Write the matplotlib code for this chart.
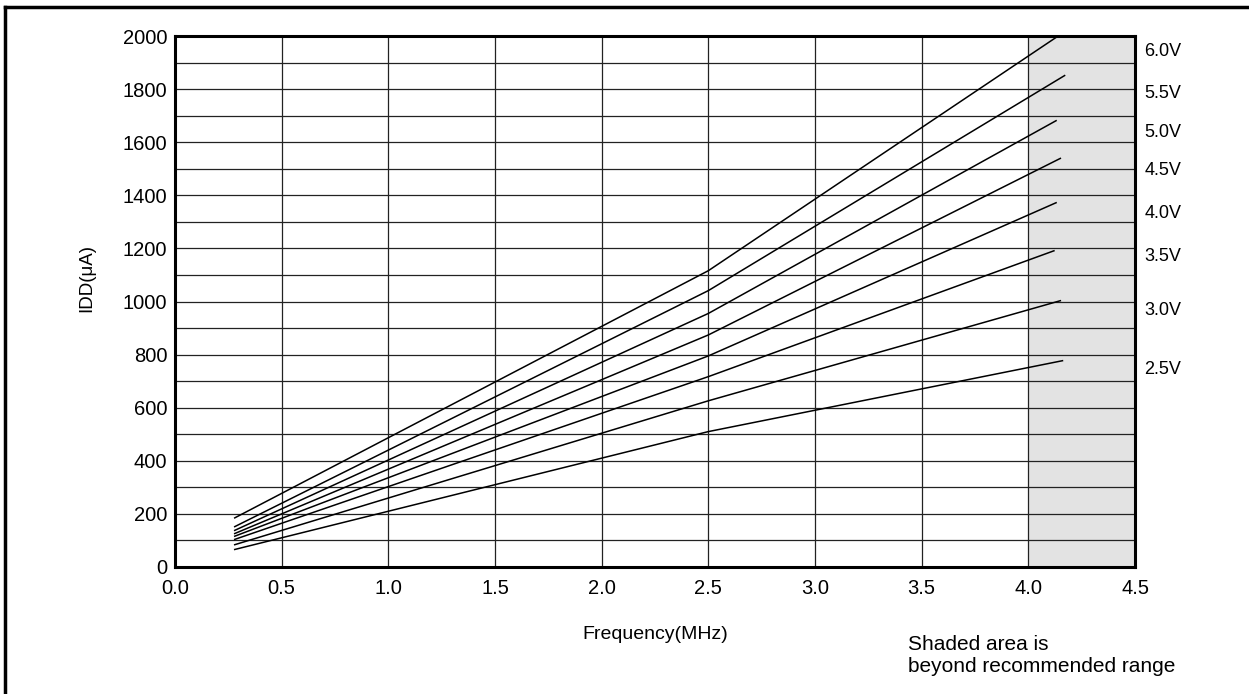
import matplotlib
matplotlib.use("Agg")
import matplotlib.pyplot as plt
from matplotlib.lines import Line2D

plt.rcParams["font.family"] = ["Liberation Sans", "DejaVu Sans"]

# supply voltage curves, IDD (uA) vs frequency (MHz)
voltages = ["6.0V", "5.5V", "5.0V", "4.5V", "4.0V", "3.5V", "3.0V", "2.5V"]
f_start = 0.28
f_knee = 2.5
f_end = [4.14, 4.17, 4.13, 4.15, 4.13, 4.12, 4.15, 4.16]
idd_start = [185, 152, 138, 126, 116, 104, 84, 66]
idd_knee = [1116, 1041, 955, 874, 795, 717, 626, 510]
idd_end = [2000, 1851, 1681, 1539, 1372, 1191, 1003, 777]

shade_from, shade_to = 4.0, 4.5

fig = plt.figure(figsize=(12.49, 6.94), dpi=100)
ax = fig.add_axes([175 / 1249, 1 - 567 / 694, 960 / 1249, 531 / 694])

ax.axvspan(shade_from, shade_to, color="#e3e3e3", zorder=0, lw=0)

for i, v in enumerate(voltages):
    ax.plot([f_start, f_knee, f_end[i]],
            [idd_start[i], idd_knee[i], idd_end[i]],
            color="black", lw=1.1, zorder=3)

# label positions for the voltage tags (a bit under each line end)
label_y = [1943, 1782, 1636, 1495, 1330, 1168, 965, 742]
for v, ly in zip(voltages, label_y):
    ax.text(4.543, ly, v, fontsize=13, va="center", ha="left", clip_on=False)

ax.set_xlim(0, 4.5)
ax.set_ylim(0, 2000)
ax.set_xticks([i * 0.5 for i in range(10)])
ax.set_xticklabels([f"{i * 0.5:.1f}" for i in range(10)])
ax.set_yticks(range(0, 2001, 200))
ax.set_yticks(range(0, 2001, 100), minor=True)
ax.grid(True, which="both", color="#222222", lw=0.9, zorder=1)
ax.set_axisbelow(True)
ax.tick_params(which="both", length=0, labelsize=14.5)
ax.tick_params(axis="x", pad=9)
ax.tick_params(axis="y", pad=5.5)
for s in ax.spines.values():
    s.set_linewidth(2.2)
    s.set_zorder(4)

ax.set_xlabel("Frequency(MHz)", fontsize=14, labelpad=20)
fig.text(87 / 1249, 1 - 278 / 694, "IDD(μA)", rotation=90, fontsize=13.5,
         ha="center", va="center")
fig.text(908 / 1249, 1 - 655 / 694, "Shaded area is\nbeyond recommended range",
         fontsize=15, ha="left", va="center", linespacing=1.2)

# outer frame (top and left edges visible)
fig.add_artist(Line2D([5 / 1249, 1], [1 - 7 / 694, 1 - 7 / 694],
                      transform=fig.transFigure, color="black", lw=2.5))
fig.add_artist(Line2D([5 / 1249, 5 / 1249], [0, 1 - 7 / 694],
                      transform=fig.transFigure, color="black", lw=2.5))

fig.savefig("out.png", dpi=100)
plt.close(fig)
